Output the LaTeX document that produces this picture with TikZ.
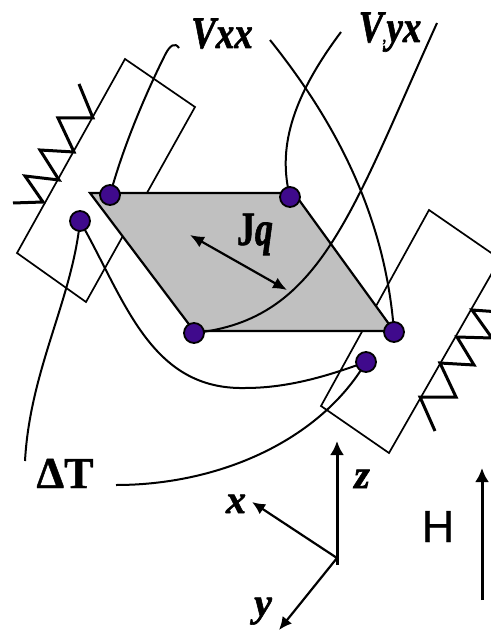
\documentclass[tikz,border=0pt]{standalone}
\usepackage{fontspec}
\setmainfont{Liberation Serif}
\newfontfamily\hfont[FakeBold=0.5]{Liberation Sans}
\newfontfamily\labfont[FakeBold=1.5]{Liberation Serif Bold Italic}
\newfontfamily\upfont[FakeBold=1]{Liberation Serif Bold}
\usetikzlibrary{arrows.meta}
\pgfdeclarelayer{under}
\pgfdeclarelayer{wires}
\pgfsetlayers{under,wires,main}
\definecolor{dotc}{HTML}{3F0A8C}
\definecolor{plate}{HTML}{C0C0C0}
\tikzset{
  wire/.style={line width=2pt},
  frame/.style={line width=1.7pt},
  coil/.style={line width=3pt,miter limit=3},
  contact/.style={circle,draw=black,fill=dotc,line width=1.8pt,minimum size=20pt,inner sep=0pt},
  axis/.style={line width=2.2pt,-{Latex[length=13pt,width=12pt]}},
  thickaxis/.style={line width=3pt,-{Latex[length=14pt,width=14pt]}},
  lab/.style={font=\fontsize{40}{40}\selectfont\labfont,inner sep=0pt},
  tall/.style={font=\fontsize{45}{45}\selectfont\labfont,inner sep=0pt,xscale=0.82},
}
\begin{document}
\begin{tikzpicture}[x=1pt,y=-1pt]
\useasboundingbox (0,0) rectangle (490,631);
\begin{pgfonlayer}{under}
\draw[frame] (125,59) -- (195,107) -- (86,302) -- (17,253) -- cycle;
\draw[frame] (429,210) -- (500,259) -- (389,453) -- (321,406) -- cycle;
\draw[coil] (13,203) -- (43,202) -- (25,176) -- (59,180) -- (40,150) -- (74,152) -- (58,118) -- (93,118) -- (79,84);
\draw[coil] (435,431) -- (420,397) -- (456,397) -- (440,363) -- (474,365) -- (457,337) -- (492,338) -- (472,310) -- (500,312);
\draw[line width=2.2pt,fill=plate] (90,193) -- (294,193) -- (394,331) -- (194,331) -- cycle;
\end{pgfonlayer}
\coordinate (vxxa) at (179,48);
\coordinate (vyxa) at (341,32);
\coordinate (vxxb) at (270,40);
\coordinate (vyxb) at (437,23);
\coordinate (dta) at (25,461);
\coordinate (dtb) at (116,485);
\node[contact] (a) at (110,195) {};
\node[contact] (b) at (290,197) {};
\node[contact] (c) at (194,333) {};
\node[contact] (d) at (394,332) {};
\node[contact] (e) at (80,221) {};
\node[contact] (f) at (366,362) {};
\begin{pgfonlayer}{wires}
\draw[wire] (a.center) .. controls (125,140) and (150,85) .. (165,55) .. controls (170,45) and (175,42) .. (vxxa);
\draw[wire] (b.center) .. controls (278,150) and (290,100) .. (vyxa);
\draw[wire] (vxxb) .. controls (330,115) and (385,210) .. (d.center);
\draw[wire] (c.center) .. controls (320,320) and (350,215) .. (vyxb);
\draw[wire] (e.center) .. controls (72,300) and (30,370) .. (dta);
\draw[wire] (e.center) .. controls (125,300) and (150,390) .. (245,388) .. controls (290,388) and (330,375) .. (f.center);
\draw[wire] (dtb) .. controls (220,485) and (320,440) .. (f.center);
\end{pgfonlayer}
\coordinate (jq1) at (190,235);
\coordinate (jq2) at (287,290);
\draw[line width=2.2pt,{Latex[length=14pt,width=12pt]}-{Latex[length=14pt,width=12pt]}] (jq1) -- (jq2);
\coordinate (o) at (337,565);
\coordinate (oo) at (337,558);
\coordinate (zt) at (337,441);
\coordinate (xt) at (252,502);
\coordinate (yt) at (279,630);
\coordinate (h1) at (482,600);
\coordinate (h2) at (482,468);
\draw[thickaxis] (o) -- (zt);
\draw[axis] (oo) -- (xt);
\draw[axis] (oo) -- (yt);
\draw[thickaxis] (h1) -- (h2);
\node[tall,anchor=base] (lvxx) at (222,48) {Vxx};
\node[tall,anchor=base] (lvyx) at (390,42) {V{\fontsize{16}{16}\selectfont,}yx};
\node[lab,anchor=base] (lz) at (362,488) {z};
\node[lab,anchor=base] (lx) at (236,513) {x};
\node[lab,anchor=base] (ly) at (263,616) {y};
\node[anchor=base,inner sep=0pt,xscale=0.75,font=\fontsize{48}{48}\selectfont\upfont] (ljq) at (255,245) {J{\labfont q}};
\node[anchor=base,inner sep=0pt,font=\fontsize{44}{44}\selectfont\upfont] (ldt) at (65,488) {ΔT};
\node[anchor=base,inner sep=0pt,font=\fontsize{45}{45}\selectfont\hfont] (lh) at (438,542) {H};
\end{tikzpicture}
\end{document}
